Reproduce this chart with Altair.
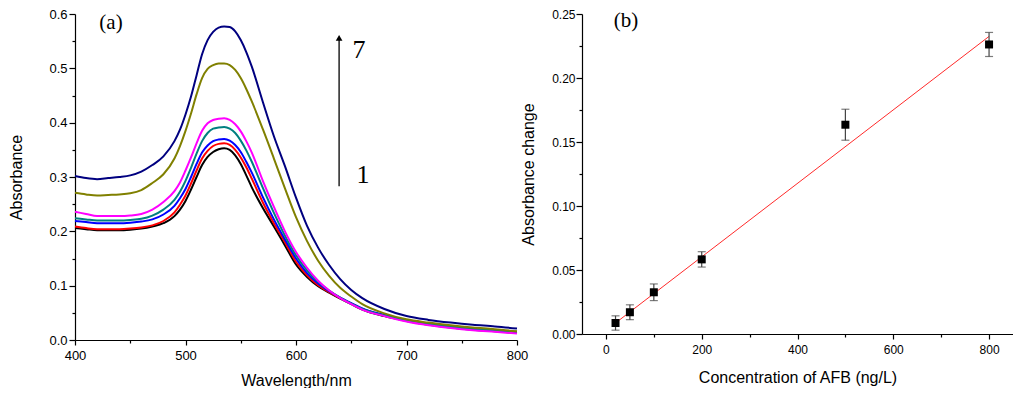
import altair as alt
import pandas as pd

# ---------------- panel (a): absorption spectra ----------------
wavelength = [400, 410, 420, 430, 440, 450, 460, 470, 480, 490, 495, 500, 505, 510, 515, 520, 525, 530, 535,
              540, 545, 550, 555, 560, 570, 580, 590, 600, 610, 620, 630, 640, 650, 660, 680, 700,
              720, 740, 760, 780, 800]

curve1 = [0.206, 0.204, 0.202, 0.202, 0.202, 0.203, 0.205, 0.209, 0.215, 0.228, 0.240, 0.256, 0.277, 0.300, 0.322,
          0.337, 0.346, 0.351, 0.353, 0.350, 0.340, 0.324, 0.303, 0.281, 0.243, 0.209, 0.174, 0.139, 0.116, 0.099,
          0.087, 0.076, 0.066, 0.056, 0.044, 0.035, 0.028, 0.023, 0.019, 0.016, 0.013]
curve2 = [0.209, 0.206, 0.204, 0.204, 0.204, 0.205, 0.207, 0.211, 0.219, 0.235, 0.249, 0.266, 0.288, 0.312, 0.334,
          0.348, 0.357, 0.361, 0.362, 0.359, 0.350, 0.336, 0.318, 0.297, 0.253, 0.215, 0.180, 0.144, 0.119, 0.101,
          0.088, 0.077, 0.067, 0.057, 0.045, 0.036, 0.029, 0.024, 0.020, 0.017, 0.014]
curve3 = [0.219, 0.217, 0.215, 0.215, 0.215, 0.216, 0.218, 0.222, 0.231, 0.247, 0.261, 0.278, 0.300, 0.324, 0.345,
          0.358, 0.366, 0.369, 0.370, 0.367, 0.359, 0.346, 0.328, 0.308, 0.263, 0.222, 0.185, 0.150, 0.123, 0.104,
          0.090, 0.078, 0.068, 0.058, 0.046, 0.036, 0.029, 0.024, 0.020, 0.017, 0.014]
curve4 = [0.224, 0.222, 0.220, 0.220, 0.220, 0.221, 0.223, 0.229, 0.240, 0.258, 0.273, 0.293, 0.317, 0.343, 0.366,
          0.381, 0.389, 0.391, 0.392, 0.389, 0.381, 0.367, 0.349, 0.328, 0.280, 0.234, 0.192, 0.156, 0.128, 0.107,
          0.091, 0.078, 0.067, 0.057, 0.045, 0.036, 0.030, 0.025, 0.021, 0.018, 0.015]
curve5 = [0.236, 0.232, 0.228, 0.228, 0.228, 0.229, 0.232, 0.240, 0.254, 0.274, 0.290, 0.312, 0.336, 0.362, 0.385,
          0.399, 0.405, 0.407, 0.408, 0.405, 0.397, 0.384, 0.366, 0.345, 0.293, 0.245, 0.200, 0.162, 0.133, 0.109,
          0.091, 0.077, 0.066, 0.056, 0.044, 0.034, 0.027, 0.022, 0.018, 0.015, 0.012]
curve6 = [0.271, 0.268, 0.266, 0.267, 0.268, 0.270, 0.276, 0.289, 0.305, 0.334, 0.357, 0.385, 0.417, 0.452, 0.482,
          0.499, 0.506, 0.509, 0.509, 0.506, 0.497, 0.482, 0.462, 0.439, 0.388, 0.334, 0.279, 0.226, 0.182, 0.146,
          0.118, 0.096, 0.080, 0.066, 0.049, 0.038, 0.032, 0.027, 0.023, 0.020, 0.016]
curve7 = [0.302, 0.298, 0.296, 0.298, 0.300, 0.303, 0.310, 0.322, 0.338, 0.366, 0.387, 0.415, 0.448, 0.487, 0.526,
          0.552, 0.567, 0.575, 0.577, 0.576, 0.568, 0.552, 0.530, 0.503, 0.438, 0.375, 0.320, 0.262, 0.210, 0.170,
          0.138, 0.112, 0.092, 0.077, 0.057, 0.044, 0.037, 0.032, 0.028, 0.025, 0.021]

curve_names = ["1", "2", "3", "4", "5", "6", "7"]
curve_colors = ["#000000", "#ff0000", "#0000ff", "#008080", "#ff00ff", "#808000", "#000080"]
curves = [curve1, curve2, curve3, curve4, curve5, curve6, curve7]

# ---------------- panel (b): calibration ----------------
conc = [20, 50, 100, 200, 500, 800]
abs_change = [0.0086, 0.0170, 0.0326, 0.0583, 0.1635, 0.2262]
abs_err = [0.0056, 0.0058, 0.0065, 0.0060, 0.0121, 0.0094]
fit_x = [20, 800]
fit_y = [0.0086, 0.2325]

rows = []
for name, vals in zip(curve_names, curves):
    for w, a in zip(wavelength, vals):
        rows.append({"wl": w, "A": a, "curve": name})
spec_df = pd.DataFrame(rows)

cal_df = pd.DataFrame({"c": conc, "v": abs_change, "e": abs_err})
cal_df["lo"] = cal_df["v"] - cal_df["e"]
cal_df["hi"] = cal_df["v"] + cal_df["e"]
fit_df = pd.DataFrame({"c": fit_x, "v": fit_y})
one_row = pd.DataFrame({"k": [0]})

SANS = "Liberation Sans"
SERIF = "Liberation Serif"

def axis(values, title, fmt, tick, label_pad, title_pad, label_size, orient):
    return alt.Axis(values=values, title=title, format=fmt, tickSize=tick, labelPadding=label_pad,
                    titlePadding=title_pad, labelFontSize=label_size, titleFontSize=16,
                    labelFont=SANS, titleFont=SANS, titleFontWeight="normal", labelColor="black",
                    titleColor="black", domainColor="black", tickColor="black", domainWidth=1.2,
                    tickWidth=1.2, grid=False, labelOverlap=False, labelFlush=False, orient=orient)

def minor_axis(values, orient):
    return alt.Axis(values=values, labels=False, domain=False, tickSize=3, tickColor="black",
                    tickWidth=1.2, title=None, grid=False, orient=orient)

# ---- left panel ----
xs_a = alt.Scale(domain=[400, 800], nice=False, zero=False)
ys_a = alt.Scale(domain=[0, 0.6], nice=False)

lines = alt.Chart(spec_df).mark_line(strokeWidth=2, interpolate="monotone").encode(
    x=alt.X("wl:Q", scale=xs_a,
            axis=axis([400, 500, 600, 700, 800], "Wavelength/nm", "d", 5, 4, 10, 13, "bottom")),
    y=alt.Y("A:Q", scale=ys_a,
            axis=axis([0, 0.1, 0.2, 0.3, 0.4, 0.5, 0.6], "Absorbance", ".1f", 6, 2, 24, 13, "left")),
    color=alt.Color("curve:N", scale=alt.Scale(domain=curve_names, range=curve_colors), legend=None),
)

arrow_shaft = alt.Chart(one_row).mark_rule(color="black", strokeWidth=1.3).encode(
    x=alt.XDatum(639, scale=xs_a, axis=None),
    y=alt.YDatum(0.283, scale=ys_a, axis=None),
    y2=alt.Y2Datum(0.555),
)
arrow_head = alt.Chart(one_row).mark_point(shape="triangle-up", filled=True, color="black",
                                           size=45, opacity=1).encode(
    x=alt.XDatum(639, scale=xs_a, axis=None),
    y=alt.YDatum(0.556, scale=ys_a, axis=None),
)

def label(x, y, txt, size, xs, ys):
    return alt.Chart(one_row).mark_text(font=SERIF, fontSize=size, fontWeight="normal", color="black",
                                        align="center", baseline="middle").encode(
        x=alt.XDatum(x, scale=xs, axis=None),
        y=alt.YDatum(y, scale=ys, axis=None),
        text=alt.value(txt),
    )

minor_a = alt.Chart(spec_df).mark_point(opacity=0).encode(
    x=alt.X("wl:Q", scale=xs_a, axis=minor_axis([450, 550, 650, 750], "bottom")),
    y=alt.Y("A:Q", scale=ys_a, axis=minor_axis([0.05, 0.15, 0.25, 0.35, 0.45, 0.55], "left")),
)

left = alt.layer(
    lines, arrow_shaft, arrow_head,
    label(432.6, 0.583, "(a)", 21, xs_a, ys_a),
    label(657, 0.534, "7", 26, xs_a, ys_a),
    label(660.6, 0.304, "1", 26, xs_a, ys_a),
    minor_a,
).resolve_axis(x="independent", y="independent").properties(width=442, height=326)

# ---- right panel ----
xs_b = alt.Scale(domain=[-50, 850], nice=False, zero=False)
ys_b = alt.Scale(domain=[0, 0.25], nice=False)

fit = alt.Chart(fit_df).mark_line(color="#ff2a2a", strokeWidth=1).encode(
    x=alt.X("c:Q", scale=xs_b,
            axis=axis([0, 200, 400, 600, 800], "Concentration of AFB (ng/L)", "d", 5, 5, 14, 12, "bottom")),
    y=alt.Y("v:Q", scale=ys_b,
            axis=axis([0, 0.05, 0.10, 0.15, 0.20, 0.25], "Absorbance change", ".2f", 6, 1, 15, 12, "left")),
)
err = alt.Chart(cal_df).mark_rule(color="#444444", strokeWidth=1.2).encode(
    x=alt.X("c:Q", scale=xs_b, axis=None),
    y=alt.Y("lo:Q", scale=ys_b, axis=None),
    y2="hi:Q",
)
cap_lo = alt.Chart(cal_df).mark_tick(color="#444444", orient="horizontal", size=8, thickness=1.2).encode(
    x=alt.X("c:Q", scale=xs_b, axis=None),
    y=alt.Y("lo:Q", scale=ys_b, axis=None),
)
cap_hi = alt.Chart(cal_df).mark_tick(color="#444444", orient="horizontal", size=8, thickness=1.2).encode(
    x=alt.X("c:Q", scale=xs_b, axis=None),
    y=alt.Y("hi:Q", scale=ys_b, axis=None),
)
pts = alt.Chart(cal_df).mark_point(shape="square", filled=True, color="black", size=64, opacity=1).encode(
    x=alt.X("c:Q", scale=xs_b, axis=None),
    y=alt.Y("v:Q", scale=ys_b, axis=None),
)
minor_b = alt.Chart(cal_df).mark_point(opacity=0).encode(
    x=alt.X("c:Q", scale=xs_b, axis=minor_axis([100, 300, 500, 700], "bottom")),
    y=alt.Y("v:Q", scale=ys_b, axis=minor_axis([0.025, 0.075, 0.125, 0.175, 0.225], "left")),
)
lab_b = alt.Chart(one_row).mark_text(font=SERIF, fontSize=21, fontWeight="normal", color="black",
                                     align="center", baseline="middle").encode(
    x=alt.XDatum(41.8, scale=xs_b, axis=None),
    y=alt.YDatum(0.2448, scale=ys_b, axis=None),
    text=alt.value("(b)"),
)

right = alt.layer(fit, err, cap_lo, cap_hi, pts, lab_b, minor_b).resolve_axis(
    x="independent", y="independent").properties(width=431, height=320)

chart = alt.hconcat(left, right, spacing=65, bounds="flush").properties(
    padding={"left": 0, "top": 0, "right": 0, "bottom": 0}
).configure_view(stroke=None)

chart.save("out.html", embed_options={"renderer": "svg", "actions": False})
